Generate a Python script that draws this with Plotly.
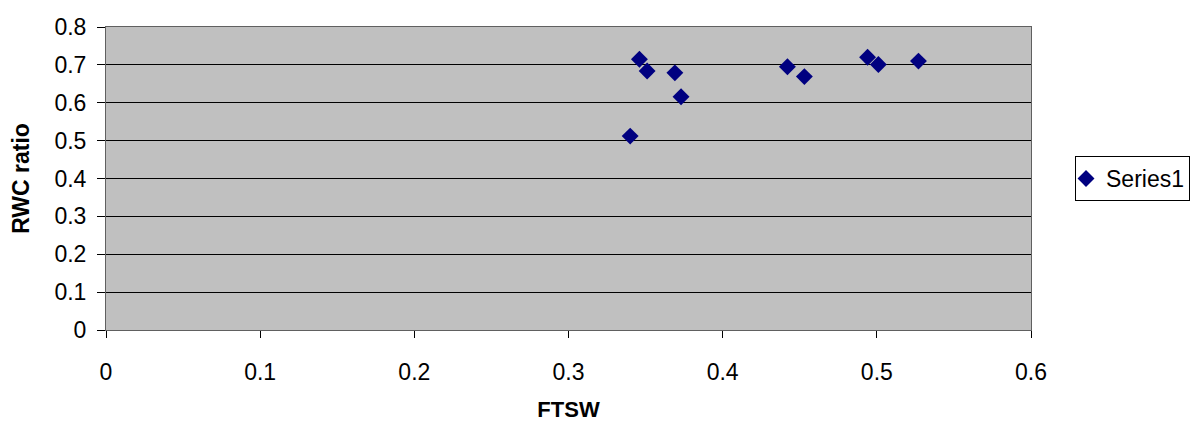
import plotly.graph_objects as go

ftsw = [0.340, 0.346, 0.351, 0.369, 0.373, 0.442, 0.453, 0.494, 0.501, 0.527]
rwc = [0.512, 0.715, 0.684, 0.679, 0.616, 0.695, 0.669, 0.720, 0.701, 0.710]

fig = go.Figure()
fig.add_trace(go.Scatter(
    x=ftsw, y=rwc, mode="markers", name="Series1",
    marker=dict(symbol="diamond", size=13, color="#000080",
                line=dict(width=0)),
))

font = "Liberation Sans, Arial, sans-serif"
fig.update_layout(
    width=1190, height=414,
    margin=dict(l=98, r=167, t=19, b=92, autoexpand=False),
    paper_bgcolor="white", plot_bgcolor="#C0C0C0",
    font=dict(family=font, size=23, color="black"),
    showlegend=True,
    legend=dict(x=1.0476, y=0.5, xanchor="left", yanchor="middle",
                bordercolor="black", borderwidth=1, bgcolor="white",
                font=dict(size=23), itemsizing="trace",
                itemwidth=30, indentation=-10),
    xaxis=dict(range=[0, 0.6], dtick=0.1, tick0=0, showgrid=False,
               zeroline=False, ticks="outside", ticklen=7, tickcolor="black",
               showline=True, linecolor="#606060", mirror=True,
               automargin=False, ticklabelstandoff=14,
               title=dict(text="<b>FTSW</b>", font=dict(size=22), standoff=18),
               tickfont=dict(size=23)),
    yaxis=dict(range=[0, 0.8], dtick=0.1, tick0=0, showgrid=True,
               gridcolor="black", gridwidth=1, zeroline=False,
               ticks="outside", ticklen=8, tickcolor="black",
               showline=True, linecolor="#606060", mirror=True,
               automargin=False, ticklabelstandoff=6,
               title=dict(text="<b>RWC ratio</b>", font=dict(size=23), standoff=18),
               tickfont=dict(size=23)),
)
fig.write_html("out.html")
